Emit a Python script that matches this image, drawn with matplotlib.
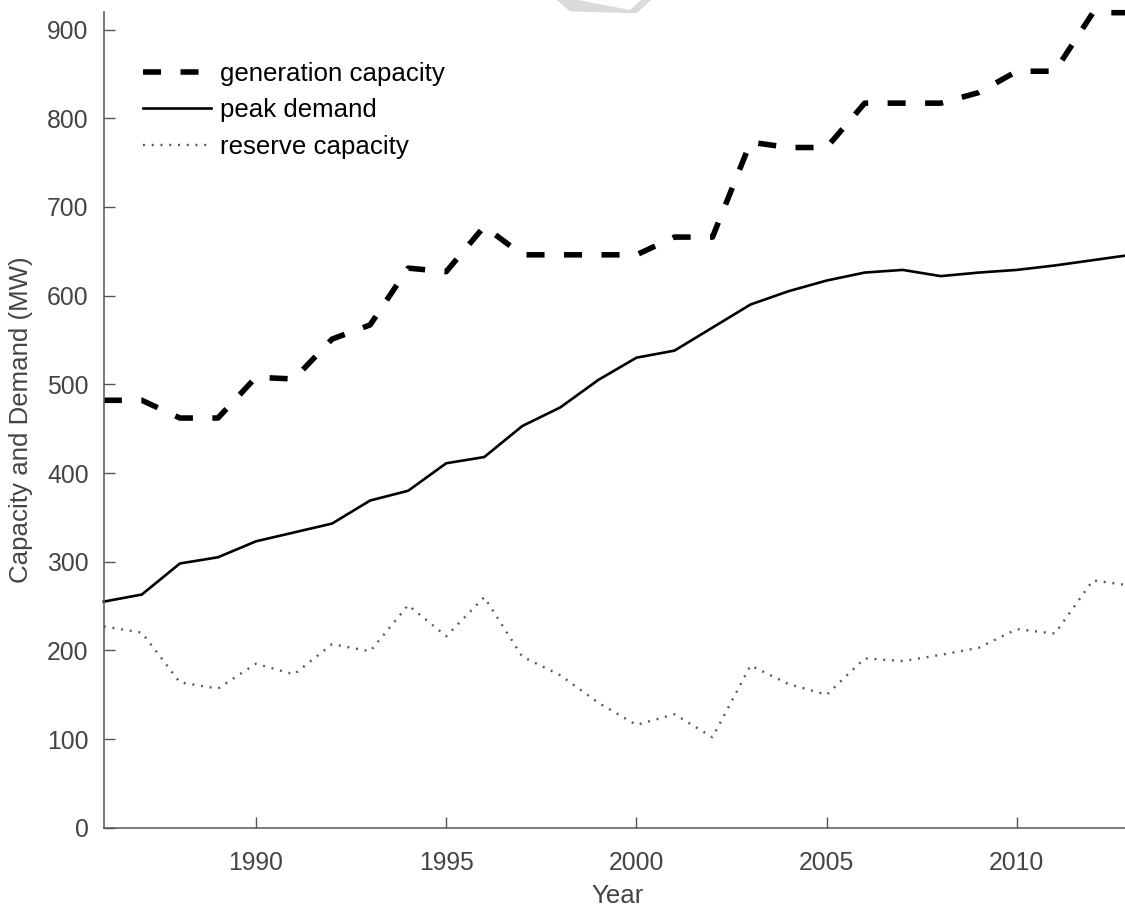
import matplotlib
matplotlib.use("Agg")
import matplotlib.pyplot as plt
from matplotlib.patches import Polygon

plt.rcParams['font.family'] = ['Liberation Sans', 'DejaVu Sans']
plt.rcParams['lines.scale_dashes'] = False

years = list(range(1986, 2014))
generation_capacity = [482, 482, 462, 462, 508, 506, 551, 567, 631, 627,
                       678, 646, 646, 646, 646, 666, 666, 773, 767, 767,
                       817, 817, 817, 829, 853, 853, 919, 919]
peak_demand = [255, 263, 298, 305, 323, 333, 343, 369, 380, 411,
               418, 453, 474, 505, 530, 538, 564, 590, 605, 617,
               626, 629, 622, 626, 629, 634, 640, 646]
reserve_capacity = [227, 220, 164, 157, 185, 173, 207, 199, 251, 216,
                    260, 193, 172, 141, 116, 128, 102, 183, 162, 150,
                    191, 188, 195, 203, 224, 219, 279, 273]

x_ticks = [1990, 1995, 2000, 2005, 2010]
y_ticks = [0, 100, 200, 300, 400, 500, 600, 700, 800, 900]

W, H = 1125, 908
fig = plt.figure(figsize=(W / 100, H / 100), dpi=100)
ax = fig.add_axes([103.8 / W, (H - 827.8) / H, (1131 - 103.8) / W, (827.8 - 11.8) / H])

text_color = '#444444'
axis_color = '#555555'
tick_size = 17.8
label_size = 18.6

ax.plot(years, generation_capacity, color='black', lw=4.0,
        dashes=(13, 14), clip_on=False, label='generation capacity')
ax.plot(years, peak_demand, color='black', lw=1.9,
        clip_on=False, label='peak demand')
ax.plot(years, reserve_capacity, color='#555555', lw=1.7,
        dashes=(1.4, 4.9), clip_on=False, label='reserve capacity')

ax.set_xlim(1986, 2013)
ax.set_ylim(0, 920)
ax.set_xticks(x_ticks)
ax.set_yticks(y_ticks)

for side in ('top', 'right'):
    ax.spines[side].set_visible(False)
for side in ('left', 'bottom'):
    ax.spines[side].set_color(axis_color)
    ax.spines[side].set_linewidth(1.1)

ax.tick_params(axis='both', direction='in', length=7.7, width=1.0,
               color=axis_color, labelcolor=text_color, labelsize=tick_size)
ax.tick_params(axis='y', pad=11)
ax.tick_params(axis='x', pad=17)

ax.set_xlabel('Year', fontsize=label_size, color=text_color, labelpad=6)
ax.set_ylabel('Capacity and Demand (MW)', fontsize=label_size, color=text_color, labelpad=10)

leg = ax.legend(loc='upper left', bbox_to_anchor=(143 / W, 1 - 62 / H),
                bbox_transform=fig.transFigure, frameon=False,
                fontsize=label_size, handlelength=2.65, handletextpad=0.33,
                labelspacing=0.48, borderpad=0, borderaxespad=0)
for t in leg.get_texts():
    t.set_color('black')

# faint watermark fragment along the top edge
mark = [(557, 0), (578, 0), (630, 10), (641, 0), (651, 0),
        (637, 13), (628, 13), (570, 11.5)]
fig.patches.append(Polygon([(x / W, 1 - y / H) for x, y in mark], closed=True,
                           transform=fig.transFigure, facecolor='#dadada',
                           edgecolor='none'))

fig.savefig('out.png', dpi=100)
